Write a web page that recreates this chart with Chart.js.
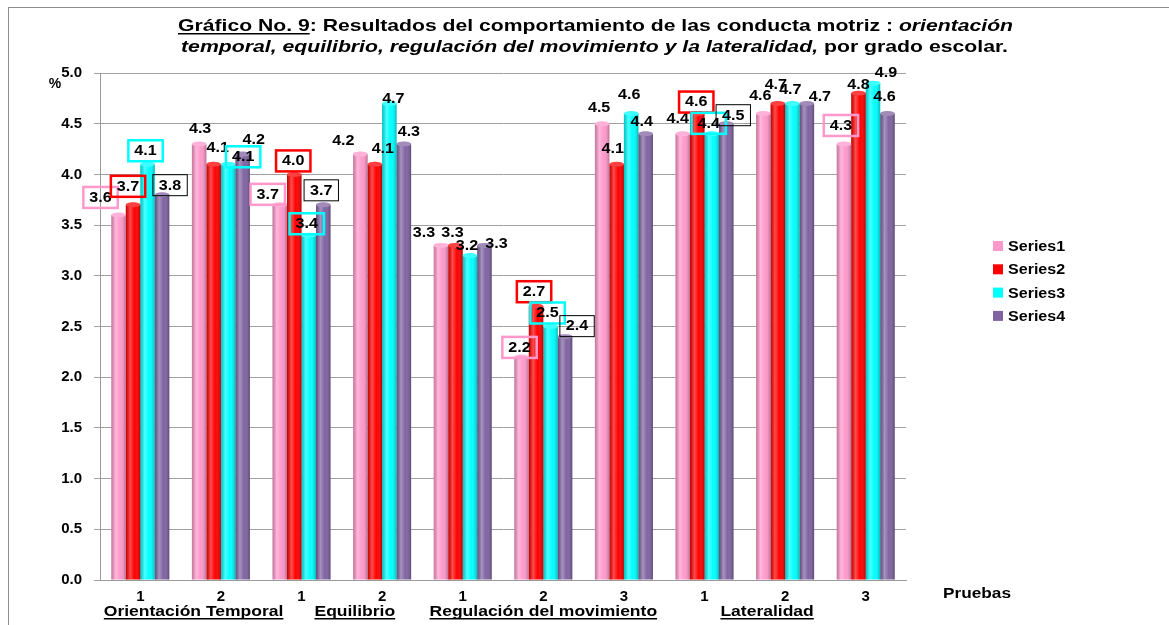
<!DOCTYPE html>
<html>
<head>
<meta charset="utf-8">
<script src="https://cdn.jsdelivr.net/npm/chart.js"></script>
<style>
  html, body { margin: 0; padding: 0; background: #fff; }
  #wrap { width: 1169px; height: 625px; position: relative; }
</style>
</head>
<body>
<div id="wrap"><canvas id="container-chart" width="1169" height="625"></canvas></div>
<script>
// datos
const categories = ['1', '2', '1', '2', '1', '2', '3', '1', '2', '3'];
const groupNames = ['Orientación Temporal', 'Equilibrio', 'Regulación del movimiento', 'Lateralidad'];
const groupSpans = [[0, 1], [2, 3], [4, 6], [7, 9]];
const seriesNames = ['Series1', 'Series2', 'Series3', 'Series4'];
const series1 = [3.6, 4.3, 3.7, 4.2, 3.3, 2.2, 4.5, 4.4, 4.6, 4.3];
const series2 = [3.7, 4.1, 4.0, 4.1, 3.3, 2.7, 4.1, 4.6, 4.7, 4.8];
const series3 = [4.1, 4.1, 3.4, 4.7, 3.2, 2.5, 4.6, 4.4, 4.7, 4.9];
const series4 = [3.8, 4.2, 3.7, 4.3, 3.3, 2.4, 4.4, 4.5, 4.7, 4.6];
const yMin = 0, yMax = 5, yStep = 0.5;

// estilos
const colors = ['#ff99cc', '#ff0000', '#00ffff', '#8064a2'];
const boxColors = ['#ff99cc', '#ff0000', '#00ffff', '#000000'];
const FONT = '"Liberation Sans", Arial, sans-serif';

// etiquetas con recuadro (indices de categoria por serie)
const boxed = [[0, 2, 5, 9], [0, 2, 5, 7], [0, 1, 2, 5, 7], [0, 2, 5, 7]];
// desplazamiento de cada etiqueta respecto a la punta de la barra [dx, dy]
const labelShift = [
  [[-18, -18], [1, -16], [-12, -11], [-17, -14], [-17, -13], [-2, -10], [-3, -17], [-5, -16], [-3, -18], [-3, -19]],
  [[-5, -19], [4, -17], [-1, -14], [8, -16], [-3, -13], [-2, -15], [-4, -16], [-1, -12], [-2, -19], [0, -9]],
  [[-2, -14], [15, -8], [-2, -12], [4, -5], [-3, -10], [-3, -14], [-2, -19], [-3, -11], [-2, -14], [13, -11]],
  [[8, -10], [11, -15], [-2, -15], [5, -13], [12, -2], [12, -11], [-4, -13], [7, -9], [13, -7], [-3, -17]]
];
const groupShift = [13, 13, 0, -18];

function txt(ctx, s, x, y, font, sx, align) {
  ctx.save();
  ctx.font = font;
  const w = ctx.measureText(s).width * sx;
  let x0 = x;
  if (align === 'center') x0 = x - w / 2;
  if (align === 'right') x0 = x - w;
  ctx.translate(x0, y);
  ctx.scale(sx, 1);
  ctx.textAlign = 'left';
  ctx.fillText(s, 0, 0);
  ctx.restore();
  return w;
}

// partes del titulo con estilos mezclados
function drawTitleLine(ctx, parts, x, y, width, size) {
  ctx.save();
  let total = 0;
  parts.forEach(p => {
    ctx.font = (p.i ? 'italic ' : '') + 'bold ' + size + 'px ' + FONT;
    p.w = ctx.measureText(p.t).width;
    total += p.w;
  });
  const sx = width / total;
  let cx = x;
  ctx.fillStyle = '#000';
  ctx.textBaseline = 'alphabetic';
  parts.forEach(p => {
    const w = txt(ctx, p.t, cx, y, (p.i ? 'italic ' : '') + 'bold ' + size + 'px ' + FONT, sx, 'left');
    if (p.u) ctx.fillRect(cx, y + 2, w, 1.5);
    cx += w;
  });
  ctx.restore();
}

const cylinderPlugin = {
  id: 'cylinder',
  afterDatasetsDraw(chart) {
    const ctx = chart.ctx;
    chart.data.datasets.forEach((ds, i) => {
      chart.getDatasetMeta(i).data.forEach(el => {
        const l = el.x - el.width / 2, r = el.x + el.width / 2;
        const g = ctx.createLinearGradient(l, 0, r, 0);
        g.addColorStop(0, 'rgba(0,0,0,0.22)');
        g.addColorStop(0.3, 'rgba(255,255,255,0.30)');
        g.addColorStop(0.6, 'rgba(255,255,255,0)');
        g.addColorStop(1, 'rgba(0,0,0,0.28)');
        ctx.save();
        ctx.fillStyle = g;
        ctx.fillRect(l, el.y, el.width, el.base - el.y);
        ctx.beginPath();
        ctx.ellipse(el.x, el.y, el.width / 2, 2.5, 0, 0, Math.PI * 2);
        ctx.fillStyle = ds.backgroundColor;
        ctx.fill();
        ctx.fillStyle = 'rgba(255,255,255,0.25)';
        ctx.fill();
        ctx.restore();
      });
    });
  }
};

const labelsPlugin = {
  id: 'extras',
  afterDraw(chart) {
    const ctx = chart.ctx;
    const xs = chart.scales.x;
    ctx.save();
    // marco
    ctx.strokeStyle = '#8c8c8c';
    ctx.lineWidth = 1;
    ctx.strokeRect(8.5, 7.5, 1200, 700);

    // titulo
    drawTitleLine(ctx, [
      { t: 'Gráfico No. 9', u: true },
      { t: ': Resultados del comportamiento de las conducta motriz : ' },
      { t: 'orientación', i: true }
    ], 178, 31, 835, 17);
    drawTitleLine(ctx, [
      { t: 'temporal, equilibrio, regulación del movimiento y la lateralidad,', i: true },
      { t: ' por grado escolar.' }
    ], 181, 52, 827, 17);

    // etiquetas de datos
    ctx.textBaseline = 'middle';
    chart.data.datasets.forEach((ds, i) => {
      chart.getDatasetMeta(i).data.forEach((el, j) => {
        const cx = el.x + labelShift[i][j][0];
        const cy = el.y + labelShift[i][j][1];
        const s = ds.data[j].toFixed(1);
        ctx.fillStyle = '#000';
        const w = txt(ctx, s, cx, cy + 1, 'bold 14px ' + FONT, 1.15, 'center');
        if (boxed[i].includes(j)) {
          ctx.strokeStyle = boxColors[i];
          ctx.lineWidth = i === 3 ? 1 : 2.5;
          ctx.strokeRect(cx - w / 2 - 6, cy - 10, w + 12, 21);
        }
      });
    });

    // nombres de grupos
    ctx.textBaseline = 'alphabetic';
    ctx.fillStyle = '#000';
    groupNames.forEach((g, k) => {
      const a = xs.getPixelForValue(groupSpans[k][0]);
      const b = xs.getPixelForValue(groupSpans[k][1]);
      const c = (a + b) / 2 + groupShift[k];
      const w = txt(ctx, g, c, 616, 'bold 14px ' + FONT, 1.25, 'center');
      ctx.fillRect(c - w / 2, 618, w, 1.5);
    });
    txt(ctx, 'Pruebas', 977, 598, 'bold 14px ' + FONT, 1.23, 'center');
    txt(ctx, '%', 55, 88, 'bold 14px ' + FONT, 1, 'center');

    // leyenda
    ctx.textBaseline = 'middle';
    seriesNames.forEach((n, i) => {
      const y = 246 + i * 23.3;
      ctx.fillStyle = colors[i];
      ctx.fillRect(993, y - 5, 10, 10);
      ctx.fillStyle = '#000';
      txt(ctx, n, 1008, y + 1, 'bold 15px ' + FONT, 1.07, 'left');
    });
    ctx.restore();
  }
};

const ctx = document.querySelector('#container-chart').getContext('2d');

const configChart = {
  type: 'bar',
  data: {
    labels: categories,
    datasets: [series1, series2, series3, series4].map((d, i) => ({
      label: seriesNames[i],
      data: d,
      backgroundColor: colors[i],
      borderWidth: 0,
      barPercentage: 1,
      categoryPercentage: 0.72
    }))
  },
  options: {
    responsive: false,
    animation: false,
    layout: { padding: { top: 73, right: 263, bottom: 0, left: 0 } },
    plugins: {
      legend: { display: false },
      title: { display: false },
      tooltip: { enabled: false }
    },
    scales: {
      x: {
        grid: { display: false },
        border: { display: true, color: '#9a9a9a' },
        ticks: { color: '#000', font: { family: FONT, size: 15, weight: 'bold' }, padding: 0 },
        afterFit(s) { s.height = 45; }
      },
      y: {
        min: yMin,
        max: yMax,
        ticks: {
          stepSize: yStep,
          color: '#000',
          padding: 12,
          font: { family: FONT, size: 15, weight: 'bold' },
          callback: v => Number(v).toFixed(1)
        },
        grid: { color: '#a0a0a0', tickLength: 6 },
        border: { display: true, color: '#9a9a9a' },
        afterFit(s) { s.width = 100; }
      }
    }
  },
  plugins: [cylinderPlugin, labelsPlugin]
};

const myChart = new Chart(ctx, configChart);
</script>
</body>
</html>
